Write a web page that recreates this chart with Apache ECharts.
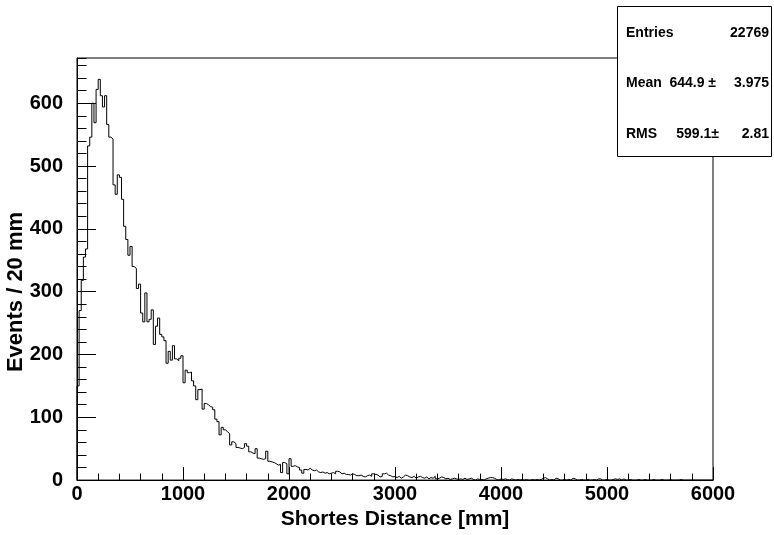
<!DOCTYPE html>
<html><head><meta charset="utf-8">
<script src="https://cdn.jsdelivr.net/npm/echarts@6/dist/echarts.min.js"></script>
<style>html,body{margin:0;padding:0;background:#fff}#c{width:774px;height:535px}</style>
</head><body><div id="c"></div>
<script>
// Histogram: 300 bins of 20 mm from 0 to 6000 mm
const binWidth = 20;
const xRange = [0, 6000];
const yRange = [0, 672];
const xMajorStep = 1000, xMinorStep = 200;
const yMajorStep = 100, yMinorStep = 20;
const counts = [
  150,270,318,355,368,532,546,600,569,622, 638,612,594,612,566,546,543,470,455,486,
  482,447,404,383,358,372,340,337,305,312, 266,252,298,252,256,271,216,245,258,232,
  228,222,186,205,191,214,193,190,194,198, 155,175,171,172,158,150,128,144,145,113,
  122,120,117,116,112,97,93,72,84,80, 77,74,56,61,58,52,51,50,52,58,
  54,45,43,42,50,35,34,33,34,46, 30,29,28,26,24,25,12,28,26,10,
  34,22,23,21,20,16,11,17,16,19, 16,15,16,13,12,13,11,12,10,11,
  12,10,14,13,10,11,9,9,8,10, 9,7,7,8,6,5,7,8,6,10,
  9,8,5,6,10,11,8,7,5,6, 4,6,3,5,8,7,5,4,6,3,
  5,6,4,3,5,2,4,3,6,2, 3,5,4,2,3,1,2,3,2,1,
  2,1,3,1,2,3,1,0,2,1, 1,0,2,3,4,4,3,1,0,2,
  1,2,1,0,2,1,0,1,0,1, 0,1,0,0,1,0,1,0,1,3,
  4,2,0,1,0,3,2,0,0,1, 0,1,0,3,2,0,0,1,0,0,
  1,0,0,1,0,2,2,0,0,1, 0,0,1,2,1,2,0,2,0,0,
  1,0,0,0,1,0,0,1,0,0, 0,1,0,0,0,1,0,0,0,1,
  0,0,0,0,1,0,0,0,0,0, 0,0,0,0,0,0,0,0,0,0
];
const xTitle = 'Shortes Distance [mm]';
const yTitle = 'Events / 20 mm';
const statNames = ['Entries', 'Mean', 'RMS'];
const statValues = ['22769', '644.9 \u00b1', '599.1\u00b1'];
const statErrors = ['', '3.975', '2.81'];

const pts = [[xRange[0], 0]];
counts.forEach((v, i) => pts.push([i * binWidth, v]));
pts.push([counts.length * binWidth, counts[counts.length - 1]]);
pts.push([counts.length * binWidth, 0]);

const FONT = 'Liberation Sans, Arial, Helvetica, sans-serif';
const chart = echarts.init(document.getElementById('c'), null, {renderer: 'canvas'});
const stats = [];
const rowY = [33, 83, 134];
statNames.forEach((n, i) => {
  stats.push({type: 'text', z: 101, x: 626, y: rowY[i],
    style: {text: n, font: 'bold 14px ' + FONT, fill: '#000', align: 'left', verticalAlign: 'middle'}});
});
const valRight = [769, 716, 719];
statValues.forEach((t, i) => {
  stats.push({type: 'text', z: 101, x: valRight[i], y: rowY[i],
    style: {text: t, font: 'bold 14px ' + FONT, fill: '#000', align: 'right', verticalAlign: 'middle'}});
});
statErrors.forEach((t, i) => {
  if (!t) return;
  stats.push({type: 'text', z: 101, x: 769, y: rowY[i],
    style: {text: t, font: 'bold 14px ' + FONT, fill: '#000', align: 'right', verticalAlign: 'middle'}});
});

chart.setOption({
  animation: false,
  backgroundColor: '#fff',
  grid: {left: 77, top: 58, width: 636, height: 432, show: true, borderColor: '#000', borderWidth: 1, backgroundColor: 'transparent'},
  xAxis: [
    {type: 'value', min: xRange[0], max: xRange[1], interval: xMajorStep, position: 'bottom',
     axisLine: {show: true, onZero: false, lineStyle: {color: '#000', width: 1}},
     axisTick: {show: true, inside: true, length: 13, lineStyle: {color: '#000', width: 1}},
     axisLabel: {color: '#000', fontFamily: FONT, fontWeight: 'bold', fontSize: 20, margin: 4,
                 formatter: v => String(v)},
     splitLine: {show: false},
     name: xTitle, nameLocation: 'middle', nameGap: 21,
     nameTextStyle: {color: '#000', fontFamily: FONT, fontWeight: 'bold', fontSize: 21}},
    {type: 'value', min: xRange[0], max: xRange[1], interval: xMinorStep, position: 'bottom',
     axisLine: {show: false}, axisTick: {show: true, inside: true, length: 6.5, lineStyle: {color: '#000', width: 1}},
     axisLabel: {show: false}, splitLine: {show: false}}
  ],
  yAxis: [
    {type: 'value', min: yRange[0], max: yRange[1], interval: yMajorStep, position: 'left',
     axisLine: {show: true, onZero: false, lineStyle: {color: '#000', width: 1}},
     axisTick: {show: true, inside: true, length: 19, lineStyle: {color: '#000', width: 1}},
     axisLabel: {color: '#000', fontFamily: FONT, fontWeight: 'bold', fontSize: 20, margin: 14, showMaxLabel: false,
                 formatter: v => String(v)},
     splitLine: {show: false}},
    {type: 'value', min: yRange[0], max: yRange[1], interval: yMinorStep, position: 'left',
     axisLine: {show: false}, axisTick: {show: true, inside: true, length: 9.5, lineStyle: {color: '#000', width: 1}},
     axisLabel: {show: false}, splitLine: {show: false}}
  ],
  series: [{
    type: 'line', xAxisIndex: 0, yAxisIndex: 0, step: 'end', data: pts,
    symbol: 'none', showSymbol: false, lineStyle: {color: '#000', width: 1}, z: 3
  }],
  graphic: [
    {type: 'text', x: 16, y: 292, rotation: Math.PI / 2, z: 100,
     style: {text: yTitle, font: 'bold 22px ' + FONT, fill: '#000', align: 'center', verticalAlign: 'middle'}},
    {type: 'rect', z: 100, shape: {x: 617.5, y: 6.5, width: 154, height: 150},
     style: {fill: '#fff', stroke: '#000', lineWidth: 1}}
  ].concat(stats)
});
</script></body></html>
